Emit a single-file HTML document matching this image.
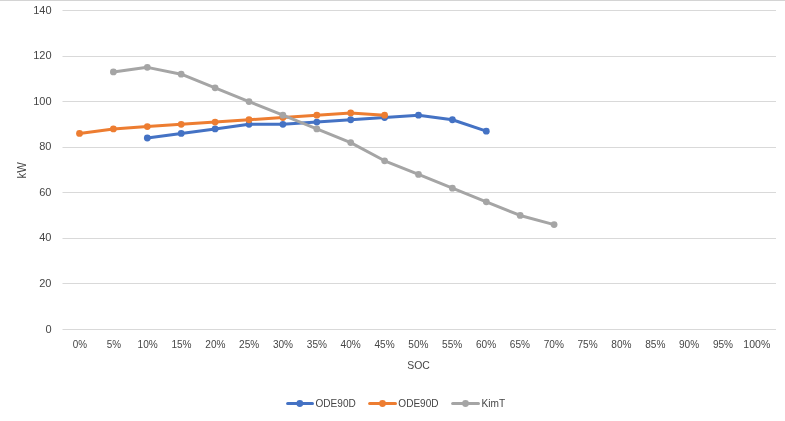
<!DOCTYPE html>
<html><head><meta charset="utf-8"><style>
html,body{margin:0;padding:0;background:#fff;}
body{width:785px;height:421px;overflow:hidden;}
svg{display:block;will-change:transform;}
text{font-family:"Liberation Sans", Arial, sans-serif;font-size:11px;fill:#454545;}
</style></head><body>
<svg width="785" height="421" viewBox="0 0 785 421">
<rect x="0" y="0" width="785" height="421" fill="#fff"/>
<rect x="0" y="0" width="785" height="1" fill="#d4d4d4"/>
<line x1="62.5" y1="329.5" x2="776" y2="329.5" stroke="#d9d9d9" stroke-width="1"/>
<line x1="62.5" y1="283.5" x2="776" y2="283.5" stroke="#d9d9d9" stroke-width="1"/>
<line x1="62.5" y1="238.5" x2="776" y2="238.5" stroke="#d9d9d9" stroke-width="1"/>
<line x1="62.5" y1="192.5" x2="776" y2="192.5" stroke="#d9d9d9" stroke-width="1"/>
<line x1="62.5" y1="147.5" x2="776" y2="147.5" stroke="#d9d9d9" stroke-width="1"/>
<line x1="62.5" y1="101.5" x2="776" y2="101.5" stroke="#d9d9d9" stroke-width="1"/>
<line x1="62.5" y1="56.5" x2="776" y2="56.5" stroke="#d9d9d9" stroke-width="1"/>
<line x1="62.5" y1="10.5" x2="776" y2="10.5" stroke="#d9d9d9" stroke-width="1"/>
<text x="51.5" y="332.5" text-anchor="end">0</text>
<text x="51.5" y="286.9" text-anchor="end">20</text>
<text x="51.5" y="241.4" text-anchor="end">40</text>
<text x="51.5" y="195.8" text-anchor="end">60</text>
<text x="51.5" y="150.2" text-anchor="end">80</text>
<text x="51.5" y="104.6" text-anchor="end">100</text>
<text x="51.5" y="59.1" text-anchor="end">120</text>
<text x="51.5" y="13.5" text-anchor="end">140</text>
<text x="80.0" y="348" text-anchor="middle" textLength="14.3" lengthAdjust="spacingAndGlyphs">0%</text>
<text x="113.8" y="348" text-anchor="middle" textLength="14.3" lengthAdjust="spacingAndGlyphs">5%</text>
<text x="147.7" y="348" text-anchor="middle" textLength="20.2" lengthAdjust="spacingAndGlyphs">10%</text>
<text x="181.5" y="348" text-anchor="middle" textLength="20.2" lengthAdjust="spacingAndGlyphs">15%</text>
<text x="215.4" y="348" text-anchor="middle" textLength="20.2" lengthAdjust="spacingAndGlyphs">20%</text>
<text x="249.2" y="348" text-anchor="middle" textLength="20.2" lengthAdjust="spacingAndGlyphs">25%</text>
<text x="283.0" y="348" text-anchor="middle" textLength="20.2" lengthAdjust="spacingAndGlyphs">30%</text>
<text x="316.9" y="348" text-anchor="middle" textLength="20.2" lengthAdjust="spacingAndGlyphs">35%</text>
<text x="350.7" y="348" text-anchor="middle" textLength="20.2" lengthAdjust="spacingAndGlyphs">40%</text>
<text x="384.6" y="348" text-anchor="middle" textLength="20.2" lengthAdjust="spacingAndGlyphs">45%</text>
<text x="418.4" y="348" text-anchor="middle" textLength="20.2" lengthAdjust="spacingAndGlyphs">50%</text>
<text x="452.2" y="348" text-anchor="middle" textLength="20.2" lengthAdjust="spacingAndGlyphs">55%</text>
<text x="486.1" y="348" text-anchor="middle" textLength="20.2" lengthAdjust="spacingAndGlyphs">60%</text>
<text x="519.9" y="348" text-anchor="middle" textLength="20.2" lengthAdjust="spacingAndGlyphs">65%</text>
<text x="553.8" y="348" text-anchor="middle" textLength="20.2" lengthAdjust="spacingAndGlyphs">70%</text>
<text x="587.6" y="348" text-anchor="middle" textLength="20.2" lengthAdjust="spacingAndGlyphs">75%</text>
<text x="621.4" y="348" text-anchor="middle" textLength="20.2" lengthAdjust="spacingAndGlyphs">80%</text>
<text x="655.3" y="348" text-anchor="middle" textLength="20.2" lengthAdjust="spacingAndGlyphs">85%</text>
<text x="689.1" y="348" text-anchor="middle" textLength="20.2" lengthAdjust="spacingAndGlyphs">90%</text>
<text x="723.0" y="348" text-anchor="middle" textLength="20.2" lengthAdjust="spacingAndGlyphs">95%</text>
<text x="756.8" y="348" text-anchor="middle" textLength="26.9" lengthAdjust="spacingAndGlyphs">100%</text>
<text x="418.5" y="369" text-anchor="middle" textLength="22.6" lengthAdjust="spacingAndGlyphs">SOC</text>
<text transform="translate(26.3,170.3) rotate(-90)" text-anchor="middle" style="font-size:12px" textLength="16.2" lengthAdjust="spacingAndGlyphs">kW</text>
<polyline points="147.30,138.00 181.20,133.44 215.10,128.89 249.00,124.33 282.90,124.33 316.80,122.05 350.70,119.77 384.60,117.49 418.50,115.21 452.40,119.77 486.30,131.16" fill="none" stroke="#4472C4" stroke-width="3" stroke-linejoin="round" stroke-linecap="round"/><circle cx="147.30" cy="138.00" r="3.4" fill="#4472C4"/><circle cx="181.20" cy="133.44" r="3.4" fill="#4472C4"/><circle cx="215.10" cy="128.89" r="3.4" fill="#4472C4"/><circle cx="249.00" cy="124.33" r="3.4" fill="#4472C4"/><circle cx="282.90" cy="124.33" r="3.4" fill="#4472C4"/><circle cx="316.80" cy="122.05" r="3.4" fill="#4472C4"/><circle cx="350.70" cy="119.77" r="3.4" fill="#4472C4"/><circle cx="384.60" cy="117.49" r="3.4" fill="#4472C4"/><circle cx="418.50" cy="115.21" r="3.4" fill="#4472C4"/><circle cx="452.40" cy="119.77" r="3.4" fill="#4472C4"/><circle cx="486.30" cy="131.16" r="3.4" fill="#4472C4"/>
<polyline points="79.50,133.44 113.40,128.89 147.30,126.61 181.20,124.33 215.10,122.05 249.00,119.77 282.90,117.49 316.80,115.21 350.70,112.94 384.60,115.21" fill="none" stroke="#ED7D31" stroke-width="3" stroke-linejoin="round" stroke-linecap="round"/><circle cx="79.50" cy="133.44" r="3.4" fill="#ED7D31"/><circle cx="113.40" cy="128.89" r="3.4" fill="#ED7D31"/><circle cx="147.30" cy="126.61" r="3.4" fill="#ED7D31"/><circle cx="181.20" cy="124.33" r="3.4" fill="#ED7D31"/><circle cx="215.10" cy="122.05" r="3.4" fill="#ED7D31"/><circle cx="249.00" cy="119.77" r="3.4" fill="#ED7D31"/><circle cx="282.90" cy="117.49" r="3.4" fill="#ED7D31"/><circle cx="316.80" cy="115.21" r="3.4" fill="#ED7D31"/><circle cx="350.70" cy="112.94" r="3.4" fill="#ED7D31"/><circle cx="384.60" cy="115.21" r="3.4" fill="#ED7D31"/>
<polyline points="113.40,71.92 147.30,67.36 181.20,74.20 215.10,87.87 249.00,101.54 282.90,115.21 316.80,128.89 350.70,142.56 384.60,160.79 418.50,174.46 452.40,188.13 486.30,201.80 520.20,215.47 554.10,224.59" fill="none" stroke="#A5A5A5" stroke-width="3" stroke-linejoin="round" stroke-linecap="round"/><circle cx="113.40" cy="71.92" r="3.4" fill="#A5A5A5"/><circle cx="147.30" cy="67.36" r="3.4" fill="#A5A5A5"/><circle cx="181.20" cy="74.20" r="3.4" fill="#A5A5A5"/><circle cx="215.10" cy="87.87" r="3.4" fill="#A5A5A5"/><circle cx="249.00" cy="101.54" r="3.4" fill="#A5A5A5"/><circle cx="282.90" cy="115.21" r="3.4" fill="#A5A5A5"/><circle cx="316.80" cy="128.89" r="3.4" fill="#A5A5A5"/><circle cx="350.70" cy="142.56" r="3.4" fill="#A5A5A5"/><circle cx="384.60" cy="160.79" r="3.4" fill="#A5A5A5"/><circle cx="418.50" cy="174.46" r="3.4" fill="#A5A5A5"/><circle cx="452.40" cy="188.13" r="3.4" fill="#A5A5A5"/><circle cx="486.30" cy="201.80" r="3.4" fill="#A5A5A5"/><circle cx="520.20" cy="215.47" r="3.4" fill="#A5A5A5"/><circle cx="554.10" cy="224.59" r="3.4" fill="#A5A5A5"/>
<line x1="287.6" y1="403.5" x2="312.5" y2="403.5" stroke="#4472C4" stroke-width="3" stroke-linecap="round"/><circle cx="299.8" cy="403.5" r="3.4" fill="#4472C4"/><text x="315.5" y="407" textLength="40.3" lengthAdjust="spacingAndGlyphs">ODE90D</text>
<line x1="369.6" y1="403.5" x2="395.5" y2="403.5" stroke="#ED7D31" stroke-width="3" stroke-linecap="round"/><circle cx="382.5" cy="403.5" r="3.4" fill="#ED7D31"/><text x="398.3" y="407" textLength="40.3" lengthAdjust="spacingAndGlyphs">ODE90D</text>
<line x1="452.6" y1="403.5" x2="478.5" y2="403.5" stroke="#A5A5A5" stroke-width="3" stroke-linecap="round"/><circle cx="465.5" cy="403.5" r="3.4" fill="#A5A5A5"/><text x="481.5" y="407" textLength="23.6" lengthAdjust="spacingAndGlyphs">KimT</text>
</svg>
</body></html>
